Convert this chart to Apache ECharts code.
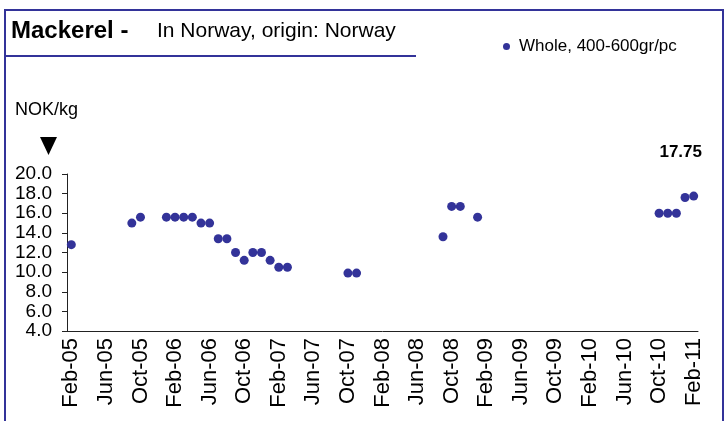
<!DOCTYPE html>
<html>
<head>
<meta charset="utf-8">
<script src="https://cdn.jsdelivr.net/npm/echarts@6/dist/echarts.min.js"></script>
<style>
  html, body { margin: 0; padding: 0; background: #fff; }
  #chart { width: 726px; height: 421px; }
</style>
</head>
<body>
<div id="chart"></div>
<script>
// monthly category axis, Feb-05 .. Feb-11
const monthNames = ["Jan", "Feb", "Mar", "Apr", "May", "Jun", "Jul", "Aug", "Sep", "Oct", "Nov", "Dec"];
const months = [];
for (let y = 2005, m = 1; y < 2011 || (y === 2011 && m <= 1); m++) {
  if (m === 12) { m = 0; y++; }
  if (y === 2011 && m > 1) break;
  months.push(monthNames[m] + "-" + String(y).slice(2));
}

// price points (NOK/kg)
const priceMonths = [
  "Feb-05", "Sep-05", "Oct-05", "Jan-06", "Feb-06", "Mar-06", "Apr-06", "May-06",
  "Jun-06", "Jul-06", "Aug-06", "Sep-06", "Oct-06", "Nov-06", "Dec-06", "Jan-07",
  "Feb-07", "Mar-07", "Oct-07", "Nov-07", "Sep-08", "Oct-08", "Nov-08", "Jan-09",
  "Oct-10", "Nov-10", "Dec-10", "Jan-11", "Feb-11"
];
const priceValues = [
  12.8, 15.0, 15.6, 15.6, 15.6, 15.6, 15.6, 15.0,
  15.0, 13.4, 13.4, 12.0, 11.2, 12.0, 12.0, 11.2,
  10.5, 10.5, 9.9, 9.9, 13.6, 16.7, 16.7, 15.6,
  16.0, 16.0, 16.0, 17.6, 17.75
];

const seriesName = "Whole, 400-600gr/pc";
const lastValue = priceValues[priceValues.length - 1];

const FONT = "Liberation Sans, Arial, sans-serif";
const BLUE = "#333399";

const chart = echarts.init(document.getElementById("chart"), null, { renderer: "canvas" });

const option = {
  backgroundColor: "#fff",
  animation: false,
  textStyle: { fontFamily: FONT },

  title: [
    {
      text: "Mackerel -",
      left: 11,
      top: 19,
      padding: 0,
      textStyle: { fontFamily: FONT, fontSize: 24, fontWeight: "bold", color: "#000" },
    },
    {
      text: "In Norway, origin: Norway",
      left: 157,
      top: 21,
      padding: 0,
      textStyle: { fontFamily: FONT, fontSize: 21, fontWeight: "normal", color: "#000" },
    },
    {
      text: "NOK/kg",
      left: 15,
      top: 101,
      padding: 0,
      textStyle: { fontFamily: FONT, fontSize: 18, fontWeight: "normal", color: "#000" },
    },
    {
      text: lastValue.toFixed(2),
      right: 24,
      top: 144,
      padding: 0,
      textStyle: { fontFamily: FONT, fontSize: 17, fontWeight: "bold", color: "#000" },
    },
  ],

  legend: {
    data: [seriesName],
    left: 503,
    top: 38,
    padding: 0,
    icon: "circle",
    itemWidth: 7,
    itemHeight: 7,
    itemStyle: { color: BLUE, opacity: 1 },
    textStyle: { fontFamily: FONT, fontSize: 17, color: "#000", padding: [0, 0, 0, 4] },
  },

  grid: {
    left: 67,
    right: 28,
    top: 174,
    bottom: 90,
    containLabel: false,
  },

  xAxis: {
    type: "category",
    data: months,
    boundaryGap: true,
    axisLine: { lineStyle: { color: "#222", width: 1 } },
    axisTick: { interval: 3, length: 5, lineStyle: { color: "#222" } },
    axisLabel: {
      interval: 3,
      rotate: 90,
      margin: 7,
      fontFamily: FONT,
      fontSize: 22,
      color: "#000",
    },
    splitLine: { show: false },
  },

  yAxis: {
    type: "value",
    min: 4,
    max: 20,
    interval: 2,
    axisLine: { show: true, lineStyle: { color: "#222", width: 1 } },
    axisTick: { show: true, length: 5, lineStyle: { color: "#222" } },
    axisLabel: {
      margin: 15,
      fontFamily: FONT,
      fontSize: 19,
      color: "#000",
      formatter: (v) => v.toFixed(1),
    },
    splitLine: { show: false },
  },

  series: [
    {
      name: seriesName,
      type: "scatter",
      symbol: "circle",
      symbolSize: 9,
      itemStyle: { color: BLUE, opacity: 1 },
      data: priceMonths.map((m, i) => [m, priceValues[i]]),
    },
  ],

  graphic: [
    // outer frame
    {
      type: "rect",
      shape: { x: 5, y: 10, width: 718, height: 430 },
      style: { fill: "none", stroke: BLUE, lineWidth: 2 },
      silent: true,
    },
    // title underline
    {
      type: "line",
      shape: { x1: 5, y1: 56, x2: 416, y2: 56 },
      style: { stroke: BLUE, lineWidth: 2 },
      silent: true,
    },
    // unit arrow
    {
      type: "polygon",
      shape: { points: [[40, 137], [57, 137], [48.5, 155]] },
      style: { fill: "#000" },
      silent: true,
    },
  ],
};

chart.setOption(option);
</script>
</body>
</html>
